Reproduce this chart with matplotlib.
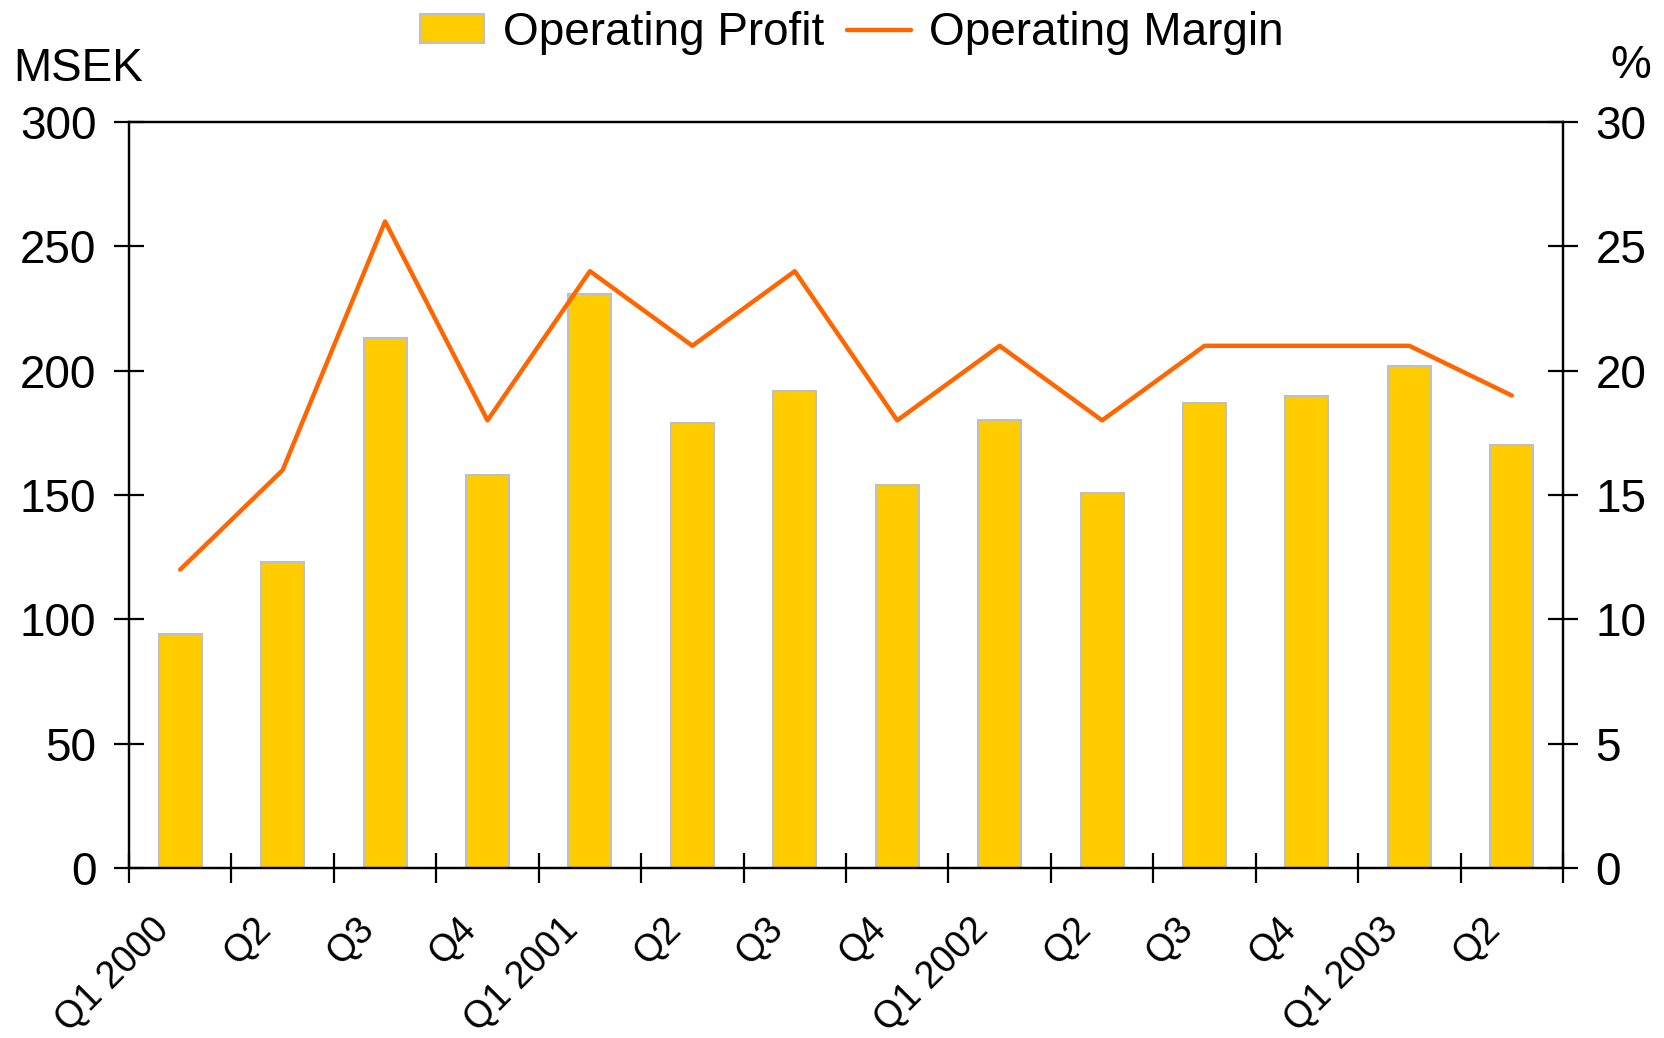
import matplotlib
matplotlib.use("Agg")
import matplotlib.pyplot as plt
import matplotlib.transforms as mtransforms
import numpy as np

categories = ["Q1 2000", "Q2", "Q3", "Q4", "Q1 2001", "Q2", "Q3", "Q4",
              "Q1 2002", "Q2", "Q3", "Q4", "Q1 2003", "Q2"]
operating_profit = [94, 123, 213, 158, 231, 179, 192, 154, 180, 151, 187, 190, 202, 170]
operating_margin = [12, 16, 26, 18, 24, 21, 24, 18, 21, 18, 21, 21, 21, 19]
left_ticks = [0, 50, 100, 150, 200, 250, 300]
right_ticks = [0, 5, 10, 15, 20, 25, 30]

plt.rcParams['font.family'] = ['Liberation Sans', 'DejaVu Sans']
FS = 33
XFS = 27

fig = plt.figure(figsize=(16.65, 10.38), dpi=100)
ax = fig.add_axes([129/1665, 1-868/1038, (1563-129)/1665, (868-122)/1038])
ax2 = ax.twinx()

n = len(categories)
x = np.arange(n)
bars = ax.bar(x, operating_profit, width=0.42, color="#FFCC00", edgecolor="#C0C0C0",
              linewidth=1.5, label="Operating Profit", zorder=2)
line, = ax2.plot(x, operating_margin, color="#FF6600", linewidth=3.2,
                 solid_capstyle='round', label="Operating Margin", zorder=3)

ax.set_xlim(-0.5, n - 0.5)
ax.set_ylim(0, 300)
ax2.set_ylim(0, 30)
ax.set_yticks(left_ticks)
ax2.set_yticks(right_ticks)

for a in (ax, ax2):
    for s in a.spines.values():
        s.set_linewidth(1.6)
        s.set_color("black")

ax.tick_params(axis='y', direction='inout', length=21, width=1.6, labelsize=FS, pad=13)
ax2.tick_params(axis='y', direction='inout', length=21, width=1.6, labelsize=FS, pad=13)

ax.set_xticks(np.arange(n + 1) - 0.5)
ax.set_xticklabels([])
ax.tick_params(axis='x', which='major', direction='inout', length=21, width=1.6)
ax.set_xticks(x, minor=True)
ax.set_xticklabels(categories, minor=True, rotation=45, ha='right', va='top', fontsize=XFS)
ax.tick_params(axis='x', which='minor', length=0, pad=31)
offset = mtransforms.ScaledTranslation(-4/100, 0, fig.dpi_scale_trans)
for lbl in ax.get_xticklabels(minor=True):
    lbl.set_transform(lbl.get_transform() + offset)

fig.text(13/1665, 1-69/1038, "MSEK", fontsize=FS, ha='left', va='center')
fig.text(1651/1665, 1-66/1038, "%", fontsize=FS, ha='right', va='center')

fig.legend([bars, line], ["Operating Profit", "Operating Margin"], loc='upper center',
           bbox_to_anchor=(852/1665, 1.016), ncol=2, frameon=False, fontsize=FS,
           handlelength=1.4, handleheight=0.6, handletextpad=0.4, columnspacing=0.5,
           borderpad=0.1)

fig.savefig("out.png", dpi=100)
